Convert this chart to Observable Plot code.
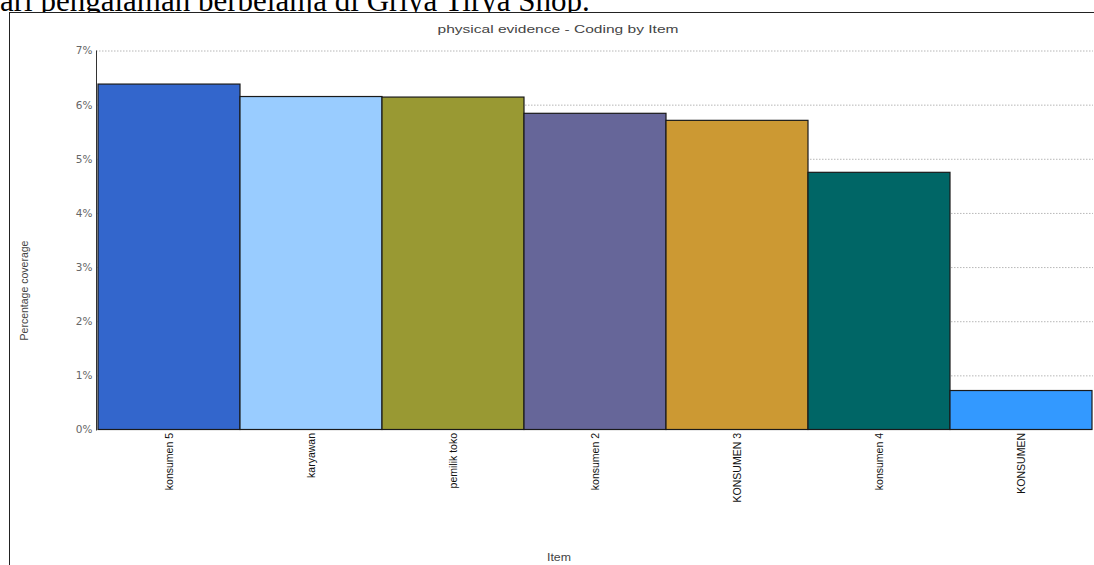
<!DOCTYPE html>
<html>
<head>
<meta charset="utf-8">
<script src="https://cdn.jsdelivr.net/npm/d3@7"></script>
<script src="https://cdn.jsdelivr.net/npm/@observablehq/plot@0.6"></script>
<style>
html, body { margin: 0; padding: 0; background: #fff; width: 1094px; height: 565px; overflow: hidden; }
#page { position: relative; width: 1094px; height: 565px; overflow: hidden; }
#doctext { position: absolute; left: 0; top: -15px; font-family: "Liberation Serif", "Times New Roman", serif; font-size: 31px; line-height: 31px; white-space: nowrap; color: #000; z-index: 0; }
#frame { position: absolute; left: 8.5px; top: 11.5px; width: 1100px; height: 600px; border-left: 1.5px solid #222; border-top: 1.5px solid #222; background: #fff; z-index: 1; }
#chart { position: absolute; left: 0; top: 0; z-index: 2; }
</style>
</head>
<body>
<div id="page">
  <div id="doctext">ari pengalaman berbelanja di Griya Tirya Shop.</div>
  <div id="frame"></div>
  <div id="chart"></div>
</div>
<script>
// Data
const items = ["konsumen 5", "karyawan", "pemilik toko", "konsumen 2", "KONSUMEN 3", "konsumen 4", "KONSUMEN"];
const coverage = [6.38, 6.15, 6.14, 5.84, 5.71, 4.75, 0.72];
const barColors = ["#3366CC", "#99CCFF", "#999933", "#666699", "#CC9933", "#006666", "#3399FF"];
const yTicks = [0, 1, 2, 3, 4, 5, 6, 7];
const title = "physical evidence - Coding by Item";
const xLabel = "Item";
const yLabel = "Percentage coverage";

const data = items.map((item, i) => ({item, value: coverage[i]}));

const plot = Plot.plot({
  width: 1094,
  height: 565,
  marginTop: 50.5,
  marginBottom: 135.5,
  marginLeft: 96,
  marginRight: 1,
  style: {background: "transparent", fontFamily: "'Liberation Sans', Arial, sans-serif", fontSize: "10px", overflow: "visible"},
  x: {type: "band", domain: items, padding: 0},
  y: {domain: [0, 7]},
  color: {domain: items, range: barColors},
  marks: [
    Plot.gridY(yTicks.slice(1), {stroke: "#999", strokeOpacity: 0.7, strokeDasharray: "1.5,1.5"}),
    Plot.barY(data, {x: "item", y: "value", fill: "item", stroke: "#1a1a1a", strokeWidth: 1.2}),
    Plot.frame({anchor: "left", stroke: "#333"}),
    Plot.axisY(yTicks, {tickSize: 0, tickPadding: 4, tickFormat: d => d + "%", fontSize: 10.5, color: "#666", fontFamily: "'DejaVu Sans', sans-serif", label: null}),
    Plot.axisX({tickRotate: -90, tickSize: 0, tickPadding: 3, fontSize: 10.5, color: "#111", label: null}),
    Plot.text([title], {text: d => d, frameAnchor: "top", lineAnchor: "middle", dx: -37, dy: -21.5, fontSize: 10.5, fill: "#444"}),
    Plot.text([xLabel], {text: d => d, frameAnchor: "bottom", lineAnchor: "middle", dx: -36, dy: 128, fontSize: 10, fill: "#444"}),
    Plot.text([yLabel], {text: d => d, frameAnchor: "left", textAnchor: "middle", lineAnchor: "middle", rotate: -90, dx: -72, dy: 50, fontSize: 10.5, fill: "#444"})
  ]
});

d3.select(plot).selectAll("text")
  .filter(function() { return this.textContent === title; })
  .attr("textLength", 241).attr("lengthAdjust", "spacingAndGlyphs");
d3.select(plot).selectAll("text")
  .filter(function() { return this.textContent === xLabel; })
  .attr("textLength", 24).attr("lengthAdjust", "spacingAndGlyphs");

document.getElementById("chart").appendChild(plot);
</script>
</body>
</html>
